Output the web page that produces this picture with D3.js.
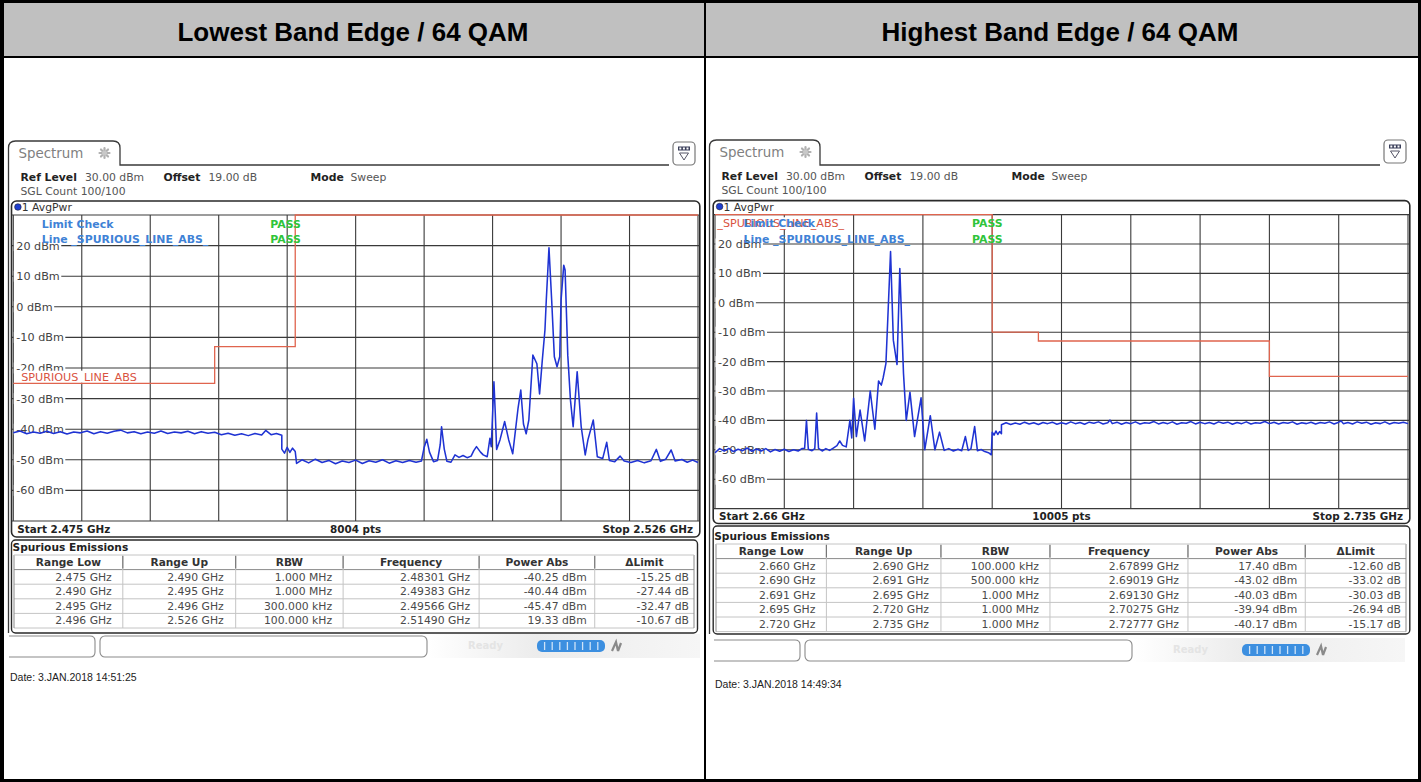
<!DOCTYPE html>
<html>
<head>
<meta charset="utf-8">
<script src="https://d3js.org/d3.v7.min.js"></script>
<style>
  body { margin: 0; background: #fff; }
  svg text { font-family: 'DejaVu Sans', Verdana, sans-serif; }
  .title { font-family: 'Liberation Sans', Arial, sans-serif !important; font-weight: bold; font-size: 26px; }
  .date { font-family: 'Liberation Sans', Arial, sans-serif !important; font-size: 10.5px; fill: #222; }
</style>
</head>
<body>
<svg id="chart"></svg>
<script>
// ---------- data ----------
const panelTitles = ["Lowest Band Edge / 64 QAM", "Highest Band Edge / 64 QAM"];
const refLevel = "30.00 dBm";
const offsetText = "19.00 dB";
const modeText = "Sweep";
const sglCount = "SGL Count 100/100";
const traceName = "1 AvgPwr";
const limitLineName = "_SPURIOUS_LINE_ABS_";
const yTickValues = [20, 10, 0, -10, -20, -30, -40, -50, -60];
const yRange = [-70, 30];
const tableColumns = ["Range Low", "Range Up", "RBW", "Frequency", "Power Abs", "\u0394Limit"];

const lowSpan = [2.475, 2.526];
const lowPointCount = 8004;
const lowDate = "Date: 3.JAN.2018  14:51:25";
// rangeLow, rangeUp (GHz), RBW (kHz), frequency (GHz), power (dBm), delta limit (dB)
const lowRows = [
  [2.475, 2.490, 1000, 2.48301, -40.25, -15.25],
  [2.490, 2.495, 1000, 2.49383, -40.44, -27.44],
  [2.495, 2.496, 300, 2.49566, -45.47, -32.47],
  [2.496, 2.526, 100, 2.51490, 19.33, -10.67]
];
const lowTrace = [
  [2.4750,-41.2],[2.4755,-40.6],[2.4760,-41.5],[2.4765,-40.9],[2.4770,-41.3],[2.4775,-40.7],[2.4780,-41.4],[2.4785,-40.8],
  [2.4790,-41.6],[2.4795,-40.9],[2.4800,-41.2],[2.4805,-40.6],[2.4810,-41.5],[2.4815,-40.8],[2.4820,-41.3],[2.4825,-40.7],
  [2.4830,-40.3],[2.4835,-41.2],[2.4840,-40.8],[2.4845,-41.5],[2.4850,-40.9],[2.4855,-41.3],[2.4860,-40.6],[2.4865,-41.4],
  [2.4870,-40.9],[2.4875,-41.2],[2.4880,-40.7],[2.4885,-41.5],[2.4890,-40.8],[2.4895,-41.3],[2.4900,-41.0],[2.4905,-41.8],
  [2.4910,-41.3],[2.4915,-42.0],[2.4920,-41.5],[2.4925,-42.1],[2.4930,-41.4],[2.4935,-41.9],[2.4938,-40.4],[2.4942,-41.8],
  [2.4946,-41.4],[2.4950,-42.0],
  [2.4950,-46.5],[2.4952,-47.8],[2.4954,-45.9],[2.4956,-47.6],[2.4958,-46.2],[2.4960,-47.3],
  [2.4961,-51.2],[2.4965,-50.0],[2.4970,-51.0],[2.4975,-49.8],[2.4980,-50.9],[2.4985,-50.2],[2.4990,-51.3],[2.4995,-50.4],
  [2.5000,-50.9],[2.5005,-50.1],[2.5010,-51.2],[2.5015,-50.3],[2.5020,-50.8],[2.5025,-50.0],[2.5030,-51.1],[2.5035,-50.3],
  [2.5040,-50.9],[2.5045,-50.2],[2.5050,-50.8],[2.5054,-50.4],
  [2.5056,-46.0],[2.5058,-43.3],[2.5060,-47.5],[2.5063,-50.6],[2.5066,-50.2],[2.5068,-45.0],[2.5069,-39.2],[2.5071,-46.5],
  [2.5073,-50.5],[2.5076,-50.8],[2.5079,-48.4],[2.5082,-49.2],[2.5085,-48.6],[2.5088,-49.3],[2.5091,-48.8],[2.5093,-47.0],
  [2.5095,-45.7],[2.5098,-47.5],[2.5100,-48.4],[2.5103,-49.0],[2.5105,-43.0],[2.5106,-45.7],[2.5108,-24.5],[2.5109,-34.8],
  [2.5110,-46.6],[2.51125,-43.5],[2.5116,-37.5],[2.5119,-43.5],[2.5122,-48.0],[2.5126,-33.0],[2.5128,-27.2],[2.5130,-38.3],
  [2.5132,-41.5],[2.5134,-37.0],[2.5137,-15.8],[2.5140,-18.6],[2.5142,-28.5],[2.5144,-17.6],[2.5146,-7.6],[2.5147,2.2],
  [2.5149,19.3],[2.5151,2.2],[2.5153,-16.3],[2.5155,-19.6],[2.5157,-16.3],[2.5158,2.2],[2.5160,13.6],[2.5161,12.0],
  [2.5163,-15.8],[2.5165,-30.5],[2.5167,-39.2],[2.5170,-21.2],[2.5173,-39.2],[2.5176,-48.4],[2.5178,-43.5],[2.5182,-37.0],
  [2.5185,-49.0],[2.5189,-49.6],[2.5192,-44.3],[2.5194,-50.2],
  [2.5198,-50.6],[2.5202,-48.8],[2.5205,-50.4],[2.5210,-50.9],[2.5215,-50.2],[2.5220,-51.0],[2.5225,-50.3],[2.5229,-46.6],
  [2.5232,-50.5],[2.5236,-49.8],[2.5240,-46.8],[2.5243,-50.4],[2.5248,-49.9],[2.5252,-50.8],[2.5256,-50.1],[2.5260,-50.9]
];

const highSpan = [2.66, 2.735];
const highPointCount = 10005;
const highDate = "Date: 3.JAN.2018  14:49:34";
const highRows = [
  [2.660, 2.690, 100, 2.67899, 17.40, -12.60],
  [2.690, 2.691, 500, 2.69019, -43.02, -33.02],
  [2.691, 2.695, 1000, 2.69130, -40.03, -30.03],
  [2.695, 2.720, 1000, 2.70275, -39.94, -26.94],
  [2.720, 2.735, 1000, 2.72777, -40.17, -15.17]
];
const highTrace = [
  [2.6600,-51.0],[2.6605,-49.6],[2.6610,-50.4],[2.6615,-49.5],[2.6620,-50.6],[2.6625,-49.8],[2.6630,-50.3],[2.6635,-49.4],
  [2.6640,-50.5],[2.6645,-49.7],[2.6650,-50.4],[2.6655,-49.6],[2.6660,-50.7],[2.6665,-49.9],[2.6670,-50.5],[2.6675,-49.8],
  [2.6680,-50.6],[2.6685,-50.0],[2.6690,-50.4],[2.6694,-49.6],[2.6697,-49.5],[2.6699,-40.0],[2.6701,-49.8],[2.6705,-50.3],
  [2.6708,-49.6],[2.6710,-37.5],[2.6712,-49.5],[2.6716,-50.4],[2.6720,-49.6],[2.6724,-50.2],[2.6728,-49.4],[2.6732,-48.6],
  [2.6735,-47.0],[2.6738,-48.5],[2.6742,-49.0],[2.6746,-40.0],[2.6748,-46.0],[2.6750,-32.5],[2.6753,-45.5],[2.6757,-36.5],
  [2.6762,-47.0],[2.6768,-30.0],[2.6773,-43.0],[2.6777,-26.6],[2.6780,-28.0],[2.6782,-25.5],[2.6785,-20.6],[2.6787,-5.5],
  [2.6790,17.4],[2.6793,-12.7],[2.6797,-21.0],[2.6800,11.7],[2.6804,-24.0],[2.6807,-40.0],[2.6811,-30.4],[2.6816,-45.5],
  [2.6823,-32.3],[2.6827,-50.0],[2.6833,-38.4],[2.6838,-50.0],[2.6843,-44.0],[2.6848,-50.2],[2.6853,-49.6],[2.6858,-50.4],
  [2.6863,-49.8],[2.6867,-50.3],[2.6871,-45.5],[2.6874,-50.2],[2.6877,-49.7],[2.6881,-42.1],[2.6884,-50.3],[2.6888,-49.9],
  [2.6892,-50.6],[2.6896,-51.0],[2.6899,-51.7],
  [2.6900,-44.0],[2.6902,-45.0],[2.6904,-43.6],[2.6906,-44.8],[2.6908,-43.8],[2.6910,-44.5],
  [2.6910,-41.5],[2.6915,-40.8],[2.6920,-41.4],[2.6925,-40.9],[2.6930,-41.3],[2.6935,-40.6],[2.6940,-41.2],[2.6945,-40.8],
  [2.6950,-41.4],[2.6955,-40.7],[2.6960,-41.1],[2.6965,-40.6],[2.6970,-41.3],[2.6975,-40.8],[2.6980,-41.2],[2.6985,-40.5],
  [2.6990,-41.1],[2.6995,-40.7],[2.7000,-41.3],[2.7005,-40.6],[2.7010,-41.0],[2.7015,-40.5],[2.7020,-41.2],[2.7025,-40.8],
  [2.70275,-39.9],[2.7030,-41.1],[2.7035,-40.6],[2.7040,-41.3],[2.7045,-40.7],[2.7050,-41.1],[2.7055,-40.5],[2.7060,-41.2],
  [2.7065,-40.8],[2.7070,-41.0],[2.7075,-40.4],[2.7080,-41.2],[2.7085,-40.7],[2.7090,-41.1],[2.7095,-40.5],[2.7100,-41.3],
  [2.7105,-40.8],[2.7110,-41.0],[2.7115,-40.4],[2.7120,-41.2],[2.7125,-40.6],[2.7130,-41.1],[2.7135,-40.7],[2.7140,-41.2],
  [2.7145,-40.5],[2.7150,-41.0],[2.7155,-40.6],[2.7160,-41.3],[2.7165,-40.7],[2.7170,-41.1],[2.7175,-40.5],[2.7180,-41.2],
  [2.7185,-40.8],[2.7190,-41.0],[2.7195,-40.4],[2.7200,-41.1],[2.7205,-40.6],[2.7210,-41.2],[2.7215,-40.7],[2.7220,-41.0],
  [2.7225,-40.5],[2.7230,-41.3],[2.7235,-40.8],[2.7240,-41.1],[2.7245,-40.6],[2.7250,-41.2],[2.7255,-40.7],[2.7260,-41.0],
  [2.7265,-40.5],[2.7270,-41.2],[2.7275,-40.6],[2.72777,-40.2],[2.7280,-41.1],[2.7285,-40.7],[2.7290,-41.2],[2.7295,-40.5],
  [2.7300,-41.0],[2.7305,-40.6],[2.7310,-41.3],[2.7315,-40.8],[2.7320,-41.1],[2.7325,-40.5],[2.7330,-41.2],[2.7335,-40.7],
  [2.7340,-41.0],[2.7345,-40.6],[2.7350,-41.1]
];

// ---------- layout ----------
const W = 1421, H = 782;
const layouts = [
  { left: 0, tab: {x0: 8.5, x1: 120, y0: 141, y1: 165}, icon: {x: 673, y: 142},
    grid: {x0: 13.3, x1: 698, y0: 215, y1: 521}, boxBottom: 537, headY: [181, 195],
    table: {x0: 11.5, x1: 697.5, y0: 540, y1: 633, titleY: 551, headTop: 555, c0: 14, c1: 694},
    barY: 636, dateY: 681 },
  { left: 705, tab: {x0: 709.5, x1: 820, y0: 140, y1: 165}, icon: {x: 1384, y: 140},
    grid: {x0: 715, x1: 1408, y0: 214.6, y1: 508.6}, boxBottom: 523.5, headY: [180, 194.3],
    table: {x0: 713.2, x1: 1409.8, y0: 526, y1: 634, titleY: 539.5, headTop: 544, c0: 716, c1: 1406},
    barY: 640, dateY: 688 }
];
const colFractions = [0.16, 0.166, 0.158, 0.2, 0.17, 0.146];
const colPad = [11, 12, 11, 9, 8, 5];
const rowH = 14.6;

const svg = d3.select('#chart').attr('width', W).attr('height', H);
svg.append('rect').attr('width', W).attr('height', H).attr('fill', '#fff');

// header band with titles
svg.append('rect').attr('x', 0).attr('y', 0).attr('width', W).attr('height', 57).attr('fill', '#c0c0c0');
panelTitles.forEach((t, i) => {
  svg.append('text').attr('class', 'title')
    .attr('x', i === 0 ? 353 : 1060).attr('y', 41)
    .attr('text-anchor', 'middle').attr('fill', '#000').text(t);
});

function fmtRbw(k) {
  return k >= 1000 ? (k / 1000).toFixed(3) + ' MHz' : k.toFixed(3) + ' kHz';
}

function drawPanel(L, d) {
  const g = svg.append('g');
  const G = L.grid;
  const x = d3.scaleLinear().domain(d.span).range([G.x0, G.x1]);
  const y = d3.scaleLinear().domain(yRange).range([G.y1, G.y0]);
  const bx0 = G.x0 - 1.8, bx1 = G.x1 + 1.8, by0 = G.y0 - 14;
  const T = L.tab;

  // tab and window frame
  g.append('path')
    .attr('d', `M${T.x0},${L.table.y1} V${T.y0 + 7} Q${T.x0},${T.y0} ${T.x0 + 7},${T.y0} H${T.x1 - 7} Q${T.x1},${T.y0} ${T.x1},${T.y0 + 7} V${T.y1} H${L.icon.x - 4}`)
    .attr('fill', 'none').attr('stroke', '#3a3a3a').attr('stroke-width', 1.3);
  g.append('text').attr('x', T.x0 + 10).attr('y', T.y0 + 16.5)
    .attr('font-size', 13.4).attr('fill', '#808080').text('Spectrum');
  // star icon
  const sx = T.x0 + 96, sy = T.y0 + 12;
  const star = g.append('g').attr('stroke', '#b0b0b0').attr('stroke-width', 2.2).attr('stroke-linecap', 'round');
  d3.range(4).forEach(k => {
    const a = k * Math.PI / 4;
    star.append('line')
      .attr('x1', sx - 5 * Math.cos(a)).attr('y1', sy - 5 * Math.sin(a))
      .attr('x2', sx + 5 * Math.cos(a)).attr('y2', sy + 5 * Math.sin(a));
  });
  star.append('circle').attr('cx', sx).attr('cy', sy).attr('r', 2.5).attr('fill', '#c8c8c8').attr('stroke', 'none');

  // dropdown icon
  const I = L.icon;
  g.append('rect').attr('x', I.x).attr('y', I.y).attr('width', 22).attr('height', 23).attr('rx', 4)
    .attr('fill', '#fff').attr('stroke', '#777').attr('stroke-width', 1.2);
  g.append('rect').attr('x', I.x + 5).attr('y', I.y + 4.5).attr('width', 12).attr('height', 4).attr('fill', '#3a3f5a');
  d3.range(3).forEach(k => {
    g.append('rect').attr('x', I.x + 6.3 + k * 3.6).attr('y', I.y + 5.5).attr('width', 2).attr('height', 2).attr('fill', '#fff');
  });
  g.append('path').attr('d', `M${I.x + 6.5},${I.y + 11} H${I.x + 15.5} L${I.x + 11},${I.y + 18} Z`)
    .attr('fill', 'none').attr('stroke', '#556').attr('stroke-width', 1);

  // settings lines
  const hx = T.x0 + 12;
  const hdr = [[0, 'Ref Level', true], [64.5, refLevel, false], [143, 'Offset', true], [188, offsetText, false],
               [290, 'Mode', true], [330, modeText, false]];
  hdr.forEach(h => {
    g.append('text').attr('x', hx + h[0]).attr('y', L.headY[0])
      .attr('font-size', 10.8).attr('font-weight', h[2] ? 'bold' : 'normal')
      .attr('fill', h[2] ? '#222' : '#555').text(h[1]);
  });
  g.append('text').attr('x', hx).attr('y', L.headY[1]).attr('font-size', 10.8).attr('fill', '#555').text(sglCount);

  // plot box
  g.append('rect').attr('x', bx0).attr('y', by0).attr('width', bx1 - bx0).attr('height', L.boxBottom - by0)
    .attr('rx', 5).attr('fill', '#fff').attr('stroke', '#2a2a2a').attr('stroke-width', 1.6);
  g.append('circle').attr('cx', G.x0 + 4.6).attr('cy', G.y0 - 8).attr('r', 3.3)
    .attr('fill', '#1f3fd0').attr('stroke', '#223').attr('stroke-width', 0.6);
  g.append('text').attr('x', G.x0 + 8.5).attr('y', G.y0 - 3.8).attr('font-size', 10.8).attr('fill', '#333').text(traceName);

  // grid
  const xGrid = d3.range(11).map(i => d.span[0] + i * (d.span[1] - d.span[0]) / 10);
  const yGrid = d3.range(yRange[0], yRange[1] + 1, 10);
  const grid = g.append('g').attr('stroke', '#3a3a3a').attr('stroke-width', 1.1);
  grid.selectAll('line.v').data(xGrid).join('line').attr('class', 'v')
    .attr('x1', v => x(v)).attr('x2', v => x(v)).attr('y1', G.y0).attr('y2', G.y1);
  grid.selectAll('line.h').data(yGrid).join('line').attr('class', 'h')
    .attr('x1', G.x0 - 1.5).attr('x2', G.x1 + 1.5).attr('y1', v => y(v)).attr('y2', v => y(v));

  // y labels with white backing
  yTickValues.forEach(v => {
    const t = g.append('text').attr('x', G.x0 + 3).attr('y', y(v) + 4)
      .attr('font-size', 11.2).attr('fill', '#444').text(`${v} dBm`);
    const w = t.node().getComputedTextLength();
    g.insert('rect', () => t.node()).attr('x', G.x0 + 0.5).attr('y', y(v) - 5.5)
      .attr('width', w + 4).attr('height', 11).attr('fill', '#fff');
  });

  // limit line from the table: limit = power - delta
  const limits = d.rows.map(r => ({lo: r[0], hi: r[1], lim: Math.round((r[4] - r[5]) * 100) / 100}));
  const limPts = [];
  limits.forEach(l => { limPts.push([l.lo, l.lim]); limPts.push([l.hi, l.lim]); });
  const first = limits[0].lim;
  const lbY = first >= 20 ? y(first) + 12.7 : y(first) - 2.6;
  const lb = g.append('text').attr('x', G.x0 + 2.3).attr('y', lbY)
    .attr('font-size', 11.2).attr('fill', '#d9533f').text(limitLineName);
  g.insert('rect', () => lb.node()).attr('x', G.x0 + 1).attr('y', lbY - 10)
    .attr('width', lb.node().getComputedTextLength() + 3).attr('height', 12).attr('fill', '#fff');

  g.append('path').datum(limPts)
    .attr('d', d3.line().x(p => x(p[0])).y(p => y(p[1])))
    .attr('fill', 'none').attr('stroke', '#e0644e').attr('stroke-width', 1.3);

  // trace
  g.append('path').datum(d.trace)
    .attr('d', d3.line().x(p => x(p[0])).y(p => y(p[1])))
    .attr('fill', 'none').attr('stroke', '#1f33d3').attr('stroke-width', 1.55).attr('stroke-linejoin', 'round');

  // limit check status
  const lc = [['Limit Check', G.y0 + 12.5], ['Line ' + limitLineName, G.y0 + 28]];
  lc.forEach(r => {
    g.append('text').attr('x', G.x0 + 28.5).attr('y', r[1]).attr('font-size', 10.9)
      .attr('font-weight', 'bold').attr('fill', '#3f82d6').text(r[0]);
    g.append('text').attr('x', G.x0 + 257).attr('y', r[1]).attr('font-size', 10.9)
      .attr('font-weight', 'bold').attr('fill', '#2fc43a').text('PASS');
  });

  // start / stop row
  const sy2 = (G.y1 + L.boxBottom) / 2 + 3.6;
  g.append('text').attr('x', G.x0 + 4).attr('y', sy2).attr('font-size', 10.4).attr('font-weight', 'bold')
    .attr('fill', '#222').text(`Start ${d.span[0]} GHz`);
  g.append('text').attr('x', (G.x0 + G.x1) / 2).attr('y', sy2).attr('font-size', 10.4).attr('font-weight', 'bold')
    .attr('text-anchor', 'middle').attr('fill', '#222').text(`${d.points} pts`);
  g.append('text').attr('x', G.x1 - 5).attr('y', sy2).attr('font-size', 10.4).attr('font-weight', 'bold')
    .attr('text-anchor', 'end').attr('fill', '#222').text(`Stop ${d.span[1]} GHz`);

  // spurious emissions table
  const Tb = L.table;
  g.append('rect').attr('x', Tb.x0).attr('y', Tb.y0).attr('width', Tb.x1 - Tb.x0).attr('height', Tb.y1 - Tb.y0)
    .attr('rx', 4).attr('fill', '#fff').attr('stroke', '#2a2a2a').attr('stroke-width', 1.4);
  g.append('text').attr('x', Tb.x0 + 1).attr('y', Tb.titleY).attr('font-size', 10.6).attr('font-weight', 'bold')
    .attr('fill', '#222').text('Spurious Emissions');
  const tw = Tb.c1 - Tb.c0;
  const edges = [Tb.c0];
  colFractions.forEach((f, i) => edges.push(i === colFractions.length - 1 ? Tb.c1 : edges[i] + f * tw));
  const nRows = d.rows.length;
  const tBottom = Tb.headTop + rowH * (nRows + 1);
  d3.range(nRows + 1).forEach(r => {
    g.append('line').attr('x1', Tb.c0).attr('x2', Tb.c1)
      .attr('y1', Tb.headTop + rowH * (r + 1)).attr('y2', Tb.headTop + rowH * (r + 1))
      .attr('stroke', r === 0 ? '#8a8a8a' : '#c4c4c4').attr('stroke-width', 1);
  });
  edges.forEach((e, i) => {
    g.append('line').attr('x1', e).attr('x2', e).attr('y1', Tb.headTop).attr('y2', tBottom)
      .attr('stroke', (i === 0 || i === edges.length - 1) ? '#8a8a8a' : '#c4c4c4').attr('stroke-width', 1);
    if (i > 0 && i < edges.length - 1) {
      g.append('line').attr('x1', e).attr('x2', e).attr('y1', Tb.headTop + 1).attr('y2', Tb.headTop + rowH - 1)
        .attr('stroke', '#777').attr('stroke-width', 1.2);
    }
  });
  g.append('line').attr('x1', Tb.c0).attr('x2', Tb.c1).attr('y1', Tb.headTop).attr('y2', Tb.headTop)
    .attr('stroke', '#c4c4c4');
  tableColumns.forEach((c, i) => {
    g.append('text').attr('x', (edges[i] + edges[i + 1]) / 2).attr('y', Tb.headTop + 11)
      .attr('text-anchor', 'middle').attr('font-size', 10.6).attr('font-weight', 'bold').attr('fill', '#333').text(c);
  });
  d.rows.forEach((r, j) => {
    const cells = [r[0].toFixed(3) + ' GHz', r[1].toFixed(3) + ' GHz', fmtRbw(r[2]),
                   r[3].toFixed(5) + ' GHz', r[4].toFixed(2) + ' dBm', r[5].toFixed(2) + ' dB'];
    cells.forEach((c, i) => {
      g.append('text').attr('x', edges[i + 1] - colPad[i]).attr('y', Tb.headTop + rowH * (j + 1) + 11)
        .attr('text-anchor', 'end').attr('font-size', 10.8).attr('fill', '#4a4a4a').text(c);
    });
  });

  // status bar
  const ox = L.left, by = L.barY;
  const grad = svg.append('defs').append('linearGradient').attr('id', 'bar' + ox);
  grad.append('stop').attr('offset', '0%').attr('stop-color', '#fff');
  grad.append('stop').attr('offset', '40%').attr('stop-color', '#ececec');
  grad.append('stop').attr('offset', '100%').attr('stop-color', '#f6f6f6');
  g.append('rect').attr('x', ox + 428).attr('y', by - 2).attr('width', 272).attr('height', 24).attr('fill', `url(#bar${ox})`);
  g.append('path').attr('d', `M${ox + 9},${by} H${ox + 90} Q${ox + 95},${by} ${ox + 95},${by + 5} V${by + 16} Q${ox + 95},${by + 21} ${ox + 90},${by + 21} H${ox + 9}`)
    .attr('fill', '#fff').attr('stroke', '#8a8a8a').attr('stroke-width', 1.1);
  g.append('rect').attr('x', ox + 100).attr('y', by).attr('width', 327).attr('height', 21).attr('rx', 5)
    .attr('fill', '#fff').attr('stroke', '#8a8a8a').attr('stroke-width', 1.1);
  g.append('text').attr('x', ox + 468).attr('y', by + 13).attr('font-size', 10).attr('font-weight', 'bold')
    .attr('fill', '#e4e4e4').text('Ready');
  g.append('rect').attr('x', ox + 537).attr('y', by + 4).attr('width', 68).attr('height', 12).attr('rx', 5)
    .attr('fill', '#3c8fe0');
  d3.range(1, 9).forEach(k => {
    g.append('line').attr('x1', ox + 537 + k * 7.6).attr('x2', ox + 537 + k * 7.6)
      .attr('y1', by + 6).attr('y2', by + 14).attr('stroke', '#cfe3f7').attr('stroke-width', 1.3);
  });
  g.append('path').attr('d', `M${ox + 612},${by + 15} L${ox + 616},${by + 6} L${ox + 618},${by + 15} M${ox + 618},${by + 15} L${ox + 621},${by + 7}`)
    .attr('fill', 'none').attr('stroke', '#8a8a8a').attr('stroke-width', 2.2);

  g.append('text').attr('class', 'date').attr('x', ox + 10).attr('y', L.dateY).text(d.date);
}

drawPanel(layouts[0], {span: lowSpan, points: lowPointCount, rows: lowRows, trace: lowTrace, date: lowDate});
drawPanel(layouts[1], {span: highSpan, points: highPointCount, rows: highRows, trace: highTrace, date: highDate});

// page frame and dividers
svg.append('line').attr('x1', 0).attr('x2', W).attr('y1', 57).attr('y2', 57).attr('stroke', '#000').attr('stroke-width', 2);
svg.append('line').attr('x1', 705).attr('x2', 705).attr('y1', 0).attr('y2', H).attr('stroke', '#000').attr('stroke-width', 2);
svg.append('rect').attr('x', 1.5).attr('y', 1.5).attr('width', W - 3).attr('height', H - 3)
  .attr('fill', 'none').attr('stroke', '#000').attr('stroke-width', 3);
svg.append('line').attr('x1', 2).attr('x2', 2).attr('y1', 0).attr('y2', H).attr('stroke', '#000').attr('stroke-width', 4);
</script>
</body>
</html>
